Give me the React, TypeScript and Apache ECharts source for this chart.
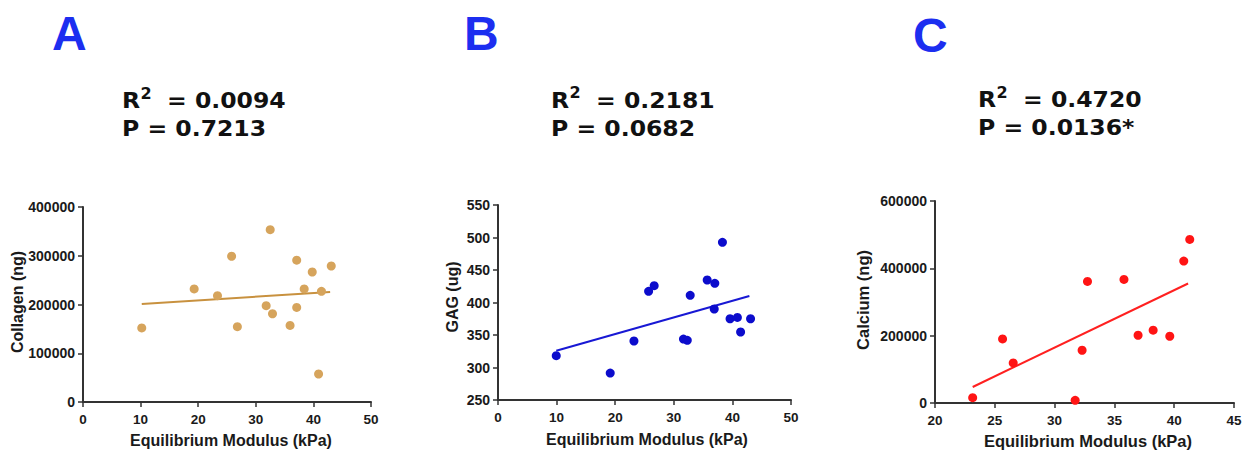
import React, { useEffect, useRef } from "react";
import * as echarts from "echarts";

// Panel A: Collagen vs Equilibrium Modulus
const modulusA = [10.2, 19.3, 23.35, 25.8, 26.8, 32.5, 31.8, 32.9, 35.95, 37.1, 37.1, 38.4, 39.8, 41.4, 40.9, 43.1];
const collagen = [152000, 232000, 218000, 299000, 154500, 353500, 197600, 181000, 157000, 291000, 194000, 232000, 266700, 227000, 57400, 279000];
const fitA = [[10.2, 201000], [42.9, 225600]];

// Panel B: GAG vs Equilibrium Modulus
const modulusB = [9.94, 19.15, 23.2, 25.7, 26.65, 31.65, 32.3, 32.8, 35.7, 37.0, 36.9, 38.3, 39.6, 40.85, 41.4, 43.1];
const gag = [318.2, 291.5, 340.8, 417.2, 425.9, 343.8, 341.8, 411, 434.6, 429.5, 390, 492.6, 375, 377, 354.6, 375];
const fitB = [[9.94, 325.9], [42.9, 410]];

// Panel C: Calcium vs Equilibrium Modulus
const modulusC = [23.15, 25.65, 26.54, 31.72, 32.3, 32.75, 35.8, 36.98, 38.24, 39.63, 40.8, 41.3];
const calcium = [15900, 190400, 119000, 7900, 156700, 361000, 367000, 201300, 216200, 198300, 421500, 486000];
const fitC = [[23.15, 47600], [41.16, 355000]];

const panelLetters = ["A", "B", "C"];
const r2Values = ["0.0094", "0.2181", "0.4720"];
const pValues = ["0.7213", "0.0682", "0.0136*"];
const yTitles = ["Collagen (ng)", "GAG (ug)", "Calcium (ng)"];
const xTitle = "Equilibrium Modulus (kPa)";

const AXIS_COLOR = "#333333";
const LABEL_FONT = "Liberation Sans";
const STAT_FONT = "DejaVu Sans";

function zip(xs: number[], ys: number[]) {
  return xs.map((x, i) => [x, ys[i]]);
}

function txt(text: string, x: number, y: number, size: number, family: string, fill: string, extra: any = {}, align = "left") {
  return {
    type: "text",
    x,
    y,
    ...extra,
    style: {
      text,
      fontSize: size,
      fontWeight: "bold",
      fontFamily: family,
      fill,
      align,
      verticalAlign: "middle",
    },
  };
}

export default function App() {
  const ref = useRef<HTMLDivElement>(null);
  useEffect(() => {
    if (!ref.current) return;
    const chart = echarts.init(ref.current, null, { renderer: "svg" });

    const grids = [
      { left: 83, top: 207, width: 288, height: 195 },
      { left: 498, top: 205, width: 293, height: 195 },
      { left: 935, top: 201, width: 299, height: 202 },
    ];
    const xRanges = [
      { min: 0, max: 50, interval: 10 },
      { min: 0, max: 50, interval: 10 },
      { min: 20, max: 45, interval: 5 },
    ];
    const yRanges = [
      { min: 0, max: 400000, interval: 100000 },
      { min: 250, max: 550, interval: 50 },
      { min: 0, max: 600000, interval: 200000 },
    ];
    const axisLine = { show: true, onZero: false, lineStyle: { color: AXIS_COLOR, width: 2 } };
    const axisTick = { show: true, length: 5, lineStyle: { color: AXIS_COLOR, width: 1.5 } };
    const labelBase = {
      color: "#1a1a1a",
      fontWeight: "bold" as const,
      fontFamily: LABEL_FONT,
      formatter: (v: number) => String(v),
    };
    const xAxis = xRanges.map((r, i) => ({
      type: "value" as const,
      gridIndex: i,
      ...r,
      axisLine,
      axisTick,
      splitLine: { show: false },
      axisLabel: { ...labelBase, fontSize: 13.5, margin: 10 },
    }));
    const yAxis = yRanges.map((r, i) => ({
      type: "value" as const,
      gridIndex: i,
      ...r,
      axisLine,
      axisTick,
      splitLine: { show: false },
      axisLabel: { ...labelBase, fontSize: 14, margin: 8 },
    }));

    const dotColors = ["#d6a45c", "#0c0ccc", "#ff1414"];
    const lineColors = ["#c8913f", "#1818d4", "#ff2020"];
    const scatterData = [zip(modulusA, collagen), zip(modulusB, gag), zip(modulusC, calcium)];
    const fits = [fitA, fitB, fitC];

    const series: any[] = [];
    for (let i = 0; i < 3; i++) {
      series.push({
        type: "line",
        xAxisIndex: i,
        yAxisIndex: i,
        data: fits[i],
        symbol: "none",
        lineStyle: { color: lineColors[i], width: 2 },
        z: 2,
      });
      series.push({
        type: "scatter",
        xAxisIndex: i,
        yAxisIndex: i,
        data: scatterData[i],
        symbol: "circle",
        symbolSize: 9,
        itemStyle: { color: dotColors[i], opacity: 1 },
        z: 3,
      });
    }

    const letterPos = [[52, 33], [464, 33], [913, 35]];
    const statPos = [[122, 100.5], [551, 100], [978, 99.5]];
    const yTitlePos = [[17, 302], [452, 297], [863, 300]];
    const yTitleSize = [16, 16, 16.5];
    const xTitlePos = [[231, 440], [647, 439], [1088, 441]];
    const xTitleSize = [16, 16, 16.5];

    const graphic: any[] = [];
    for (let i = 0; i < 3; i++) {
      graphic.push(txt(panelLetters[i], letterPos[i][0], letterPos[i][1], 48, LABEL_FONT, "#1c2ef0"));
      const [sx, sy] = statPos[i];
      graphic.push(txt("R", sx, sy, 22, STAT_FONT, "#111", { scaleX: 1.07 }));
      graphic.push(txt("2", sx + 18.5, sy - 6.5, 15, STAT_FONT, "#111", { scaleX: 1.07 }));
      graphic.push(txt("= " + r2Values[i], sx + 45, sy, 22, STAT_FONT, "#111", { scaleX: 1.07 }));
      graphic.push(txt("P = " + pValues[i], sx, sy + 28, 22, STAT_FONT, "#111", { scaleX: 1.07 }));
      graphic.push(
        txt(yTitles[i], yTitlePos[i][0], yTitlePos[i][1], yTitleSize[i], LABEL_FONT, "#1a1a1a", { rotation: Math.PI / 2 }, "center")
      );
      graphic.push(txt(xTitle, xTitlePos[i][0], xTitlePos[i][1], xTitleSize[i], LABEL_FONT, "#1a1a1a", {}, "center"));
    }

    chart.setOption({
      animation: false,
      backgroundColor: "#ffffff",
      grid: grids.map((g) => ({ ...g, containLabel: false })),
      xAxis,
      yAxis,
      series,
      graphic,
    });
    return () => chart.dispose();
  }, []);

  return (
    <div
      ref={ref}
      style={{ position: "absolute", left: 0, top: 0, width: 1246, height: 451, background: "#fff" }}
    />
  );
}
